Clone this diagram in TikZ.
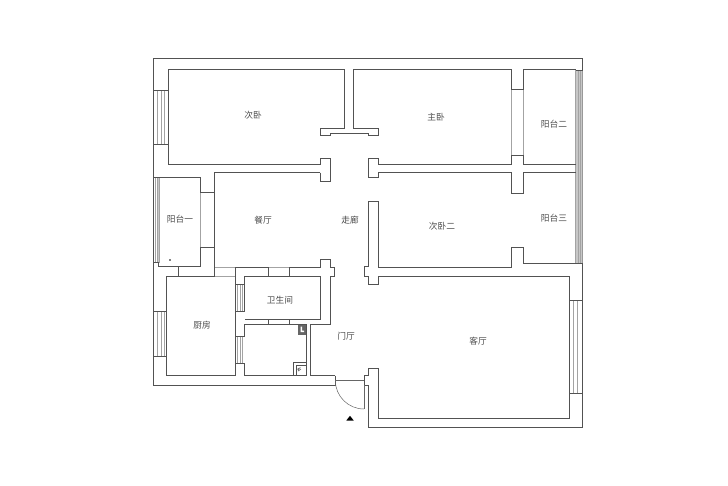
\documentclass[tikz,border=0pt]{standalone}
\usepackage{fontspec}
\newfontfamily\cjk{Noto Sans CJK SC}
\begin{document}
\begin{tikzpicture}[x=1pt,y=-1pt,wall/.style={draw=black!68,line width=1pt,line join=miter},glass/.style={draw=black!36,line width=0.5pt},room/.style={font=\cjk\fontsize{8.7}{10}\selectfont,text=black!70,inner sep=0pt}]
	\useasboundingbox[fill=white] (0,0) rectangle (728,485);
	% glazing on the east side
	\fill[black!22] (575.7,70) rectangle (582,263.3);
	\draw[glass] (575.7,70) -- (575.7,263.3);
	\draw[glass] (578,70) -- (578,263.3);
	\draw[glass] (580,70) -- (580,263.3);
	\draw[black!40,line width=1pt] (582,70) -- (582,263.3);
	% glazing of the west balcony
	\fill[black!22] (157,177.7) rectangle (159,262.7);
	\foreach \gx in {155.5,157,159}
		\draw[glass] (\gx,177.7) -- (\gx,262.7);
	% windows, three panes
	\foreach \gx in {157.7,161,164.3} {
		\draw[glass] (\gx,90) -- (\gx,144.3);
		\draw[glass] (\gx,311) -- (\gx,356.7);
	}
	\foreach \gx in {237.7,240,242.3} {
		\draw[glass] (\gx,284) -- (\gx,311.7);
		\draw[glass] (\gx,336.7) -- (\gx,363.3);
	}
	\foreach \gx in {569,573.3,577.7}
		\draw[glass] (\gx,300.7) -- (\gx,393.3);
	\foreach \gx in {200.7,214}
		\draw[glass] (\gx,192.3) -- (\gx,247.3);
	\foreach \gx in {511,523.7}
		\draw[glass] (\gx,89.5) -- (\gx,155);
	\foreach \gy in {267.3,276} {
		\draw[glass] (214,\gy) -- (235.3,\gy);
		\draw[glass] (268.3,\gy) -- (289.7,\gy);
	}
	\foreach \gy in {319.3,324.5}
		\draw[glass] (268.3,\gy) -- (289.7,\gy);
	% outer wall
	\draw[wall] (335.3,375.7) -- (335.3,385) -- (153.5,385) -- (153.5,58.5) -- (582,58.5) -- (582,70) -- (575.7,70);
	\draw[wall] (153.5,90) -- (168.7,90);
	\draw[wall] (153.5,144.3) -- (168.7,144.3);
	\draw[wall] (153.5,177.7) -- (200.7,177.7) -- (200.7,192.3) -- (214,192.3);
	\draw[wall] (153.5,262.7) -- (158.3,262.7) -- (158.3,266.7) -- (200.7,266.7) -- (200.7,247.3) -- (214,247.3);
	\draw[wall] (153.5,311) -- (166.7,311);
	\draw[wall] (153.5,356.7) -- (166.7,356.7);
	% bedrooms on the north side
	\draw[wall] (320,172.5) -- (320,181) -- (330,181) -- (330,158.3) -- (320,158.3) -- (320,164) -- (168.7,164) -- (168.7,69.5) -- (344,69.5) -- (344,128.3) -- (320,128.3) -- (320,135) -- (330,135) -- (330,133.5) -- (368,133.5) -- (368,135) -- (378,135) -- (378,128.3) -- (353.5,128.3) -- (353.5,69.5) -- (511,69.5) -- (511,89.5) -- (523.7,89.5) -- (523.7,69.5) -- (575.7,69.5);
	\draw[wall] (575.7,164) -- (523.7,164) -- (523.7,155) -- (511,155) -- (511,164) -- (378.3,164) -- (378.3,158.3) -- (368.3,158.3) -- (368.3,177.7) -- (378.3,177.7) -- (378.3,172.5) -- (511,172.5) -- (511,193.3) -- (523.7,193.3) -- (523.7,172.5) -- (575.7,172.5);
	% dining room and wet rooms
	\draw[wall] (320,172.5) -- (214,172.5) -- (214,276) -- (166.7,276) -- (166.7,375.7) -- (235.3,375.7) -- (235.3,363.3) -- (244.7,363.3) -- (244.7,375.7) -- (306,375.7) -- (306,324.5) -- (244.7,324.5) -- (244.7,336.7) -- (235.3,336.7) -- (235.3,311.7) -- (244.7,311.7) -- (244.7,276) -- (320,276) -- (320,319.3) -- (244.7,319.3);
	\draw[wall] (178.3,266.7) -- (178.3,276);
	\draw[wall] (235.3,267.3) -- (235.3,284) -- (244.7,284);
	\draw[wall] (235.3,284) -- (235.3,311.7);
	\draw[wall] (235.3,336.7) -- (235.3,375.7);
	\draw[wall] (268.3,267.3) -- (268.3,276);
	\draw[wall] (289.7,267.3) -- (289.7,276);
	\draw[wall] (268.3,319.3) -- (268.3,324.5);
	\draw[wall] (289.7,319.3) -- (289.7,324.5);
	\draw[wall] (235.3,267.3) -- (268.3,267.3);
	\draw[wall] (289.7,267.3) -- (320,267.3) -- (320,259.3) -- (330,259.3) -- (330,267.3) -- (334,267.3) -- (334,276) -- (330,276) -- (330,324.3) -- (310.7,324.3) -- (310.7,375.7) -- (335.3,375.7);
	% entrance door
	\draw[wall] (364,375) -- (368.3,375) -- (368.3,368.3) -- (378.3,368.3) -- (378.3,418.3) -- (569,418.3) -- (569,276) -- (378.3,276) -- (378.3,284.3) -- (368.3,284.3) -- (368.3,276) -- (364,276) -- (364,266.7) -- (368.3,266.7) -- (368.3,201.7) -- (378.3,201.7) -- (378.3,267.3) -- (511,267.3) -- (511,247.3) -- (523.7,247.3) -- (523.7,263.3) -- (582,263.3) -- (582,427.7) -- (368.3,427.7) -- (368.3,385) -- (364,385) -- cycle;
	\draw[wall] (569,300.7) -- (582,300.7);
	\draw[wall] (569,393.3) -- (582,393.3);
	\draw[glass,draw=black!60] (335.3,380.3) -- (364,380.3);
	\draw[glass,draw=black!60] (335.3,380.3) arc[start angle=180,end angle=90,radius=28.7];
	\draw[glass,draw=black!60] (364,385) -- (364,409);
	\fill[black] (346.3,420.5) -- (350,415.8) -- (353.7,420.5) -- cycle;
	% fixtures
	\draw[draw=black!60,fill=black!60] (298.3,325.3) rectangle (305.3,334.3);
	\fill[white] (300.5,326.5) rectangle (302.2,332) (302.2,330.5) rectangle (304,332);
	\draw[wall,line width=0.7pt] (293.3,375.7) -- (293.3,362.7) -- (306,362.7);
	\draw[wall,line width=0.7pt] (296,375.7) -- (296,365.5) -- (306,365.5);
	\draw[black!60,line width=0.6pt] (297.5,369.5) -- (300.5,367.5) (298,371) -- (301,369) (298,368) -- (299,371);
	\fill[black] (170,260) circle (0.9);
	% room names
	\node (ciwo) at (253,115) [room] {次卧};
	\node (zhuwo) at (436,117) [room] {主卧};
	\node (yangtaier) at (554,124) [room] {阳台二};
	\node (yangtaisan) at (554,218) [room] {阳台三};
	\node (ciwoer) at (442,226) [room] {次卧二};
	\node (zoulang) at (350,220) [room] {走廊};
	\node (canting) at (263,220) [room] {餐厅};
	\node (yangtaiyi) at (180,219) [room] {阳台一};
	\node (weisheng) at (280,300) [room] {卫生间};
	\node (chufang) at (202,325) [room] {厨房};
	\node (menting) at (346,336) [room] {门厅};
	\node (keting) at (478,341) [room] {客厅};
\end{tikzpicture}
\end{document}
